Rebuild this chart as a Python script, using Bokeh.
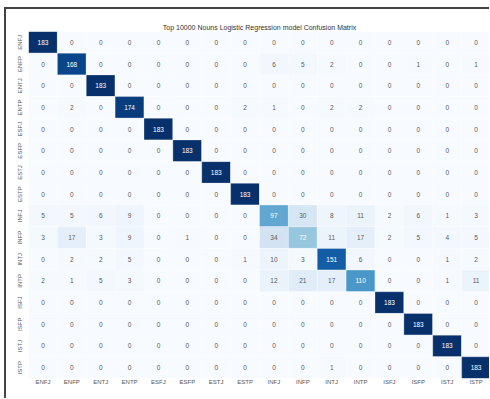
from bokeh.plotting import figure
from bokeh.models import ColumnDataSource, LinearColorMapper
from bokeh.transform import transform
from bokeh.palettes import Blues256
from bokeh.embed import file_html
from bokeh.resources import INLINE

labels = ["ENFJ", "ENFP", "ENTJ", "ENTP", "ESFJ", "ESFP", "ESTJ", "ESTP",
          "INFJ", "INFP", "INTJ", "INTP", "ISFJ", "ISFP", "ISTJ", "ISTP"]

row_ENFJ = [183, 0, 0, 0, 0, 0, 0, 0, 0, 0, 0, 0, 0, 0, 0, 0]
row_ENFP = [0, 168, 0, 0, 0, 0, 0, 0, 6, 5, 2, 0, 0, 1, 0, 1]
row_ENTJ = [0, 0, 183, 0, 0, 0, 0, 0, 0, 0, 0, 0, 0, 0, 0, 0]
row_ENTP = [0, 2, 0, 174, 0, 0, 0, 2, 1, 0, 2, 2, 0, 0, 0, 0]
row_ESFJ = [0, 0, 0, 0, 183, 0, 0, 0, 0, 0, 0, 0, 0, 0, 0, 0]
row_ESFP = [0, 0, 0, 0, 0, 183, 0, 0, 0, 0, 0, 0, 0, 0, 0, 0]
row_ESTJ = [0, 0, 0, 0, 0, 0, 183, 0, 0, 0, 0, 0, 0, 0, 0, 0]
row_ESTP = [0, 0, 0, 0, 0, 0, 0, 183, 0, 0, 0, 0, 0, 0, 0, 0]
row_INFJ = [5, 5, 6, 9, 0, 0, 0, 0, 97, 30, 8, 11, 2, 6, 1, 3]
row_INFP = [3, 17, 3, 9, 0, 1, 0, 0, 34, 72, 11, 17, 2, 5, 4, 5]
row_INTJ = [0, 2, 2, 5, 0, 0, 0, 1, 10, 3, 151, 6, 0, 0, 1, 2]
row_INTP = [2, 1, 5, 3, 0, 0, 0, 0, 12, 21, 17, 110, 0, 0, 1, 11]
row_ISFJ = [0, 0, 0, 0, 0, 0, 0, 0, 0, 0, 0, 0, 183, 0, 0, 0]
row_ISFP = [0, 0, 0, 0, 0, 0, 0, 0, 0, 0, 0, 0, 0, 183, 0, 0]
row_ISTJ = [0, 0, 0, 0, 0, 0, 0, 0, 0, 0, 0, 0, 0, 0, 183, 0]
row_ISTP = [0, 0, 0, 0, 0, 0, 0, 0, 0, 0, 1, 0, 0, 0, 0, 183]

rows = [row_ENFJ, row_ENFP, row_ENTJ, row_ENTP, row_ESFJ, row_ESFP, row_ESTJ, row_ESTP,
        row_INFJ, row_INFP, row_INTJ, row_INTP, row_ISFJ, row_ISFP, row_ISTJ, row_ISTP]

xs, ys, vals, txt, tcol = [], [], [], [], []
for i, r in enumerate(rows):
    for j, v in enumerate(r):
        xs.append(labels[j])
        ys.append(labels[i])
        vals.append(v)
        txt.append(str(v))
        tcol.append("#ffffff" if v > 60 else "#5a5a5a")

src = ColumnDataSource(dict(x=xs, y=ys, v=vals, t=txt, c=tcol))
mapper = LinearColorMapper(palette=list(Blues256[::-1]), low=0, high=183)

p = figure(width=485, height=391, x_range=labels, y_range=labels[::-1],
           output_backend="svg", toolbar_location=None,
           title="Top 10000 Nouns Logistic Regression model Confusion Matrix",
           min_border_left=22, min_border_right=1, min_border_top=22, min_border_bottom=22,
           margin=(7, 0, 0, 4))
p.styles = {"border-left": "2px solid #444444", "border-top": "2px solid #444444"}

p.rect(x="x", y="y", width=1, height=1, source=src,
       fill_color=transform("v", mapper), line_color="#ffffff", line_width=0.5, line_alpha=0.6)
p.text(x="x", y="y", text="t", source=src, text_color="c", text_align="center",
       text_baseline="middle", text_font_size="6.5px")

p.title.align = "center"
p.title.text_font_size = "7px"
p.title.text_font_style = "normal"
p.title.text_color = "#333333"
p.title.standoff = 2

p.outline_line_color = None
p.grid.grid_line_color = None
for ax in (p.xaxis, p.yaxis):
    ax.axis_line_color = None
    ax.major_tick_line_color = None
    ax.minor_tick_line_color = None
    ax.major_label_text_font_size = "6px"
    ax.major_label_text_color = "#555555"
    ax.major_tick_out = 0
    ax.major_tick_in = 0
p.xaxis.major_label_standoff = 0
p.yaxis.major_label_standoff = 6
p.yaxis.major_label_orientation = "vertical"

open("out.html", "w").write(file_html(p, INLINE))
